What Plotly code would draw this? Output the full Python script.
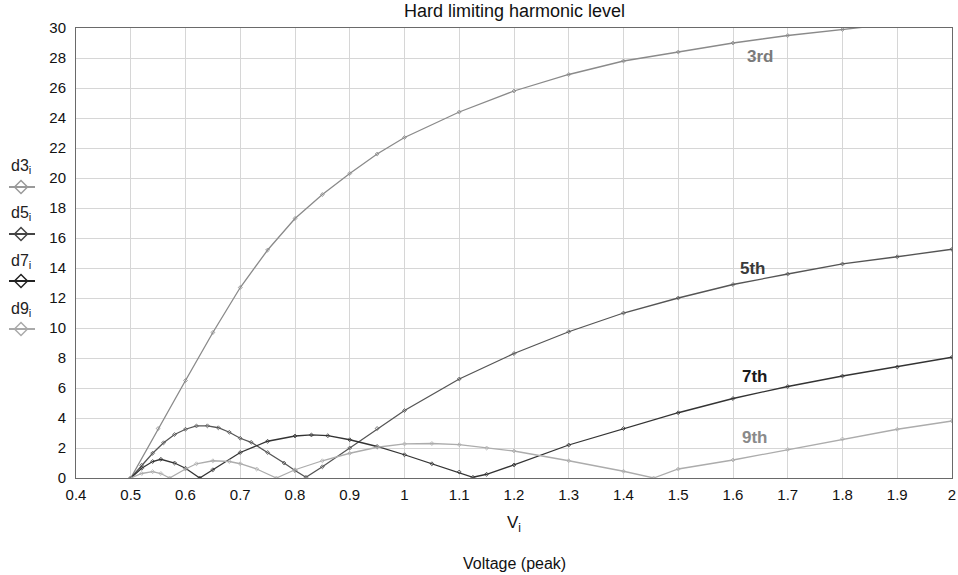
import plotly.graph_objects as go

# ---------------- data ----------------
x3 = [0.5, 0.55, 0.6, 0.65, 0.7, 0.75, 0.8, 0.85, 0.9, 0.95, 1.0,
      1.1, 1.2, 1.3, 1.4, 1.5, 1.6, 1.7, 1.8, 1.9, 2.0]
d3 = [0.0, 3.3, 6.5, 9.7, 12.7, 15.2, 17.3, 18.9, 20.3, 21.6, 22.7,
      24.4, 25.8, 26.9, 27.8, 28.4, 29.0, 29.5, 29.9, 30.3, 30.7]

x5 = [0.5, 0.52, 0.54, 0.56, 0.58, 0.6, 0.62, 0.64, 0.66, 0.68, 0.7, 0.72,
      0.75, 0.78, 0.8, 0.82, 0.85, 0.9, 0.95, 1.0, 1.1, 1.2, 1.3, 1.4,
      1.5, 1.6, 1.7, 1.8, 1.9, 2.0]
d5 = [0.0, 0.85, 1.65, 2.35, 2.9, 3.25, 3.47, 3.48, 3.35, 3.05, 2.65, 2.38,
      1.7, 1.0, 0.5, 0.05, 0.75, 2.0, 3.3, 4.5, 6.6, 8.3, 9.75, 11.0,
      12.0, 12.9, 13.6, 14.27, 14.75, 15.25]

x7 = [0.5, 0.52, 0.54, 0.555, 0.58, 0.6, 0.626, 0.65, 0.7, 0.75, 0.8, 0.83,
      0.86, 0.9, 0.95, 1.0, 1.05, 1.1, 1.125, 1.15, 1.2, 1.3, 1.4, 1.5,
      1.6, 1.7, 1.8, 1.9, 2.0]
d7 = [0.0, 0.65, 1.1, 1.25, 1.0, 0.65, 0.0, 0.55, 1.7, 2.45, 2.8, 2.87,
      2.82, 2.55, 2.1, 1.55, 0.95, 0.4, 0.05, 0.25, 0.87, 2.2, 3.3, 4.35,
      5.3, 6.1, 6.8, 7.4, 8.05]

x9 = [0.5, 0.52, 0.54, 0.555, 0.571, 0.6, 0.62, 0.65, 0.68, 0.7, 0.73,
      0.766, 0.8, 0.85, 0.9, 0.95, 1.0, 1.05, 1.1, 1.15, 1.2, 1.3, 1.4,
      1.455, 1.5, 1.6, 1.7, 1.8, 1.9, 2.0]
d9 = [0.0, 0.3, 0.42, 0.3, 0.0, 0.6, 0.95, 1.15, 1.1, 0.95, 0.6,
      0.0, 0.55, 1.15, 1.65, 2.05, 2.27, 2.3, 2.22, 2.0, 1.8, 1.15, 0.45,
      0.0, 0.6, 1.2, 1.9, 2.6, 3.25, 3.8]

series_names = ["d3", "d5", "d7", "d9"]
curve_labels = ["3rd", "5th", "7th", "9th"]
label_x = [1.65, 1.637, 1.64, 1.64]
label_y = [28.1, 14.0, 6.8, 2.7]

x_ticks = [0.4, 0.5, 0.6, 0.7, 0.8, 0.9, 1.0, 1.1, 1.2, 1.3, 1.4, 1.5,
           1.6, 1.7, 1.8, 1.9, 2.0]
x_tick_text = ["0.4", "0.5", "0.6", "0.7", "0.8", "0.9", "1", "1.1", "1.2",
               "1.3", "1.4", "1.5", "1.6", "1.7", "1.8", "1.9", "2"]
y_ticks = list(range(0, 31, 2))

# ---------------- styling ----------------
line_colors = ["#8a8a8a", "#555555", "#333333", "#acacac"]
label_colors = ["#7a7a7a", "#3a3a3a", "#1a1a1a", "#8a8a8a"]
FONT = "Liberation Sans, Arial, Helvetica, sans-serif"

W, H = 958, 575
ML, MR, MT, MB = 0, 6, 28, 97
plot_left_px = 76

fig = go.Figure()

xs = [x3, x5, x7, x9]
ys = [d3, d5, d7, d9]
for name, xv, yv, col in zip(series_names, xs, ys, line_colors):
    fig.add_trace(go.Scatter(
        x=xv, y=yv, mode="lines+markers", name=name,
        line=dict(color=col, width=1.3),
        marker=dict(symbol="diamond-open", size=3, color=col,
                    line=dict(width=0.8, color=col)),
        showlegend=False, cliponaxis=True,
    ))

# curve labels
for t, lx, ly, c in zip(curve_labels, label_x, label_y, label_colors):
    fig.add_annotation(x=lx, y=ly, xref="x", yref="y", text="<b>%s</b>" % t,
                       showarrow=False, xanchor="center", yanchor="middle",
                       font=dict(size=17, color=c, family=FONT))

# ---------------- custom legend (text above symbol) ----------------
legend_text_py = [166, 213, 261, 309]
legend_sym_py = [187, 234, 281, 329]
legend_colors = ["#9a9a9a", "#444444", "#222222", "#aaaaaa"]
for name, tpy, spy, col in zip(series_names, legend_text_py, legend_sym_py, legend_colors):
    fig.add_trace(go.Scatter(
        x=[9, 35], y=[spy, spy], xaxis="x2", yaxis="y2", mode="lines",
        line=dict(color=col, width=2), showlegend=False, hoverinfo="skip"))
    fig.add_trace(go.Scatter(
        x=[21], y=[spy], xaxis="x2", yaxis="y2", mode="markers",
        marker=dict(symbol="diamond-open", size=10, color=col,
                    line=dict(width=1.5, color=col)),
        showlegend=False, hoverinfo="skip"))
    fig.add_annotation(x=9, y=tpy, xref="x2", yref="y2", xanchor="left",
                       yanchor="middle",
                       text="%s<sub>i</sub>" % name, showarrow=False,
                       font=dict(size=16, color="#222222", family=FONT))

plot_h = H - MT - MB
def py_to_paper(py):
    return (H - MB - py) / plot_h

fig.add_annotation(x=0.5, y=py_to_paper(11), xref="x domain", yref="paper",
                   xanchor="center", yanchor="middle",
                   text="Hard limiting harmonic level", showarrow=False,
                   font=dict(size=18, color="#111111", family=FONT))
fig.add_annotation(x=0.5, y=py_to_paper(524), xref="x domain", yref="paper",
                   xanchor="center", yanchor="middle",
                   text="V<sub>i</sub>", showarrow=False,
                   font=dict(size=17, color="#111111", family=FONT))
fig.add_annotation(x=0.5, y=py_to_paper(563), xref="x domain", yref="paper",
                   xanchor="center", yanchor="middle",
                   text="Voltage (peak)", showarrow=False,
                   font=dict(size=16, color="#111111", family=FONT))

paper_w = W - ML - MR
fig.update_layout(
    width=W, height=H,
    margin=dict(l=ML, r=MR, t=MT, b=MB, pad=0, autoexpand=False),
    paper_bgcolor="white", plot_bgcolor="white",
    font=dict(family=FONT, size=15, color="#111111"),
    xaxis=dict(range=[0.4, 2.0], domain=[plot_left_px / paper_w, 1],
               tickvals=x_ticks, ticktext=x_tick_text, automargin=False,
               showgrid=True, gridcolor="#d6d6d6", gridwidth=1,
               zeroline=False, showline=True, mirror=True,
               linecolor="#6a6a6a", linewidth=1, ticks="",
               ticklabelstandoff=3, tickfont=dict(size=15)),
    yaxis=dict(range=[0, 30], tickvals=y_ticks, automargin=False,
               showgrid=True, gridcolor="#d6d6d6", gridwidth=1,
               zeroline=False, showline=True, mirror=True,
               linecolor="#6a6a6a", linewidth=1, ticks="",
               ticklabelstandoff=6, tickfont=dict(size=15)),
    xaxis2=dict(domain=[0, 40 / paper_w], range=[0, 40], visible=False,
                anchor="y2", fixedrange=True, automargin=False),
    yaxis2=dict(domain=[0, 1], range=[H - MB, MT], visible=False,
                anchor="x2", fixedrange=True, automargin=False),
)

fig.write_html("out.html")
